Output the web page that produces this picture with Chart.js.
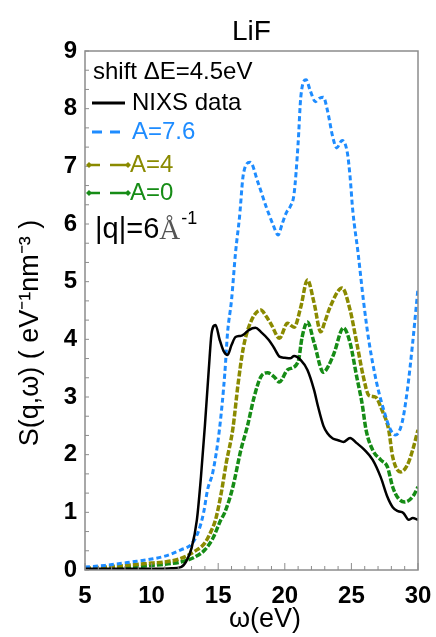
<!DOCTYPE html>
<html lang="en">
<head>
  <meta charset="UTF-8" />
  <title>LiF S(q,ω)</title>
  <script src="https://cdn.jsdelivr.net/npm/chart.js"></script>
  <style>
    body { margin: 0; background: #fff; }
    #chart { display: block; }
  </style>
</head>
<body>
  <canvas id="chart" width="436" height="637"></canvas>

  <script>
    // values: energy (eV) and S(q,w)
    const nixsE = [5, 7, 9, 10.5, 11.5, 12.2, 12.6, 13.0, 13.4, 13.7, 14.0, 14.3, 14.5, 14.8, 15.1, 15.4, 15.7, 16.0, 16.3, 16.7, 17.0, 17.3, 17.8, 18.2, 18.8, 19.2, 19.6, 20.0, 20.4, 20.7, 21.2, 21.7, 22.2, 22.5, 22.9, 23.2, 23.6, 24.0, 24.4, 24.9, 25.4, 26.0, 26.6, 27.2, 27.7, 28.1, 28.5, 28.9, 29.3, 29.6, 30.0];
    const nixsS = [0.02, 0.02, 0.02, 0.02, 0.03, 0.05, 0.15, 0.38, 0.87, 1.6, 2.5, 3.5, 4.1, 4.25, 4.0, 3.8, 3.73, 3.9, 4.04, 4.06, 4.1, 4.16, 4.2, 4.13, 3.99, 3.85, 3.7, 3.68, 3.67, 3.71, 3.64, 3.47, 3.12, 2.83, 2.5, 2.37, 2.28, 2.25, 2.22, 2.29, 2.2, 2.08, 1.91, 1.61, 1.27, 1.09, 1.02, 0.99, 0.87, 0.9, 0.87];

    const a76E = [5, 6.5, 8.5, 10, 11, 12.2, 13.0, 13.5, 13.9, 14.2, 14.6, 15.1, 15.5, 15.7, 16.0, 16.3, 16.6, 16.9, 17.4, 18.0, 18.6, 19.1, 19.5, 19.8, 20.1, 20.4, 20.7, 21.0, 21.2, 21.6, 21.9, 22.3, 22.6, 22.9, 23.2, 23.6, 23.9, 24.3, 24.7, 24.9, 25.1, 25.5, 25.9, 26.3, 26.9, 27.5, 27.9, 28.3, 28.8, 29.2, 29.6, 30.0];
    const a76S = [0.05, 0.08, 0.14, 0.19, 0.24, 0.35, 0.45, 0.66, 0.99, 1.39, 1.7, 2.45, 3.42, 4.11, 4.68, 5.5, 6.12, 6.88, 7.07, 6.71, 6.3, 6.0, 5.81, 6.0, 6.19, 6.3, 6.53, 7.4, 8.2, 8.5, 8.32, 8.12, 8.18, 8.2, 7.97, 7.51, 7.32, 7.45, 7.23, 6.82, 6.24, 5.5, 4.68, 3.99, 3.24, 2.72, 2.45, 2.34, 2.55, 3.12, 3.94, 4.89];

    const a4E = [5, 6.5, 8.5, 10, 11, 12.2, 13.2, 14.0, 14.5, 14.8, 15.2, 15.6, 16.1, 16.5, 16.9, 17.5, 18.2, 18.6, 19.0, 19.6, 20.2, 20.7, 21.2, 21.7, 22.2, 22.7, 23.0, 23.4, 24.3, 24.9, 25.4, 25.9, 26.3, 26.8, 27.3, 27.8, 28.1, 28.7, 29.2, 29.6, 30.0];
    const a4S = [0.03, 0.05, 0.09, 0.12, 0.14, 0.2, 0.32, 0.47, 0.69, 0.87, 1.3, 1.85, 2.45, 3.24, 3.87, 4.33, 4.51, 4.4, 4.25, 4.02, 4.28, 4.21, 4.56, 5.03, 4.63, 4.13, 4.3, 4.56, 4.89, 4.51, 3.94, 3.35, 3.03, 3.0, 2.77, 2.43, 1.96, 1.7, 1.82, 2.08, 2.43];

    const a0E = [5, 6.5, 8.5, 10, 11, 12.2, 13.2, 14.0, 14.6, 15.2, 15.5, 16.1, 16.7, 17.2, 17.7, 18.2, 18.7, 19.2, 19.6, 20.2, 21.0, 21.3, 21.7, 22.2, 22.9, 23.3, 23.7, 24.4, 24.9, 25.4, 25.8, 26.1, 26.6, 27.2, 27.7, 28.1, 28.5, 29.0, 29.6, 30.0];
    const a0S = [0.02, 0.03, 0.05, 0.08, 0.1, 0.14, 0.22, 0.35, 0.55, 0.87, 1.0, 1.44, 2.08, 2.5, 3.0, 3.35, 3.42, 3.35, 3.26, 3.47, 3.61, 4.04, 4.3, 3.94, 3.43, 3.55, 3.76, 4.2, 3.94, 3.35, 2.89, 2.43, 2.08, 1.91, 1.79, 1.44, 1.25, 1.18, 1.27, 1.44];

    const xTicks = [5, 10, 15, 20, 25, 30];
    const yTicks = [0, 1, 2, 3, 4, 5, 6, 7, 8, 9];

    const BLUE = '#1e8cff', OLIVE = '#8a8a00', GREEN = '#168c16', FRAME = '#8c8c8c';
    const FONT = "'Liberation Sans', Arial, sans-serif";

    const pts = (xs, ys) => xs.map((x, i) => ({ x, y: ys[i] }));

    // frame, inward ticks, title, axis titles and the text legend
    const decor = {
      id: 'decor',
      afterDatasetsDraw(chart) {
        const { ctx, chartArea: a, scales: { x, y } } = chart;
        ctx.save();
        ctx.strokeStyle = FRAME;
        ctx.lineWidth = 1.5;
        ctx.strokeRect(a.left, a.top, a.right - a.left, a.bottom - a.top);
        ctx.lineWidth = 1;
        ctx.beginPath();
        for (let v = 5; v <= 30; v++) {
          const px = x.getPixelForValue(v);
          ctx.moveTo(px, a.bottom);
          ctx.lineTo(px, a.bottom - (v % 5 === 0 ? 7 : 4));
        }
        for (let k = 0; k <= 27; k++) {
          const py = y.getPixelForValue(k / 3);
          ctx.moveTo(a.left, py);
          ctx.lineTo(a.left + 4, py);
        }
        ctx.stroke();
        ctx.restore();
      },
      afterDraw(chart) {
        const { ctx, chartArea: a } = chart;
        ctx.save();
        ctx.fillStyle = '#000';
        ctx.textBaseline = 'middle';

        ctx.textAlign = 'center';
        ctx.font = `28px ${FONT}`;
        ctx.fillText('LiF', (a.left + a.right) / 2, 32);

        ctx.font = `27px ${FONT}`;
        ctx.fillText('ω(eV)', 265, 620);

        ctx.save();
        ctx.translate(31, 333);
        ctx.rotate(-Math.PI / 2);
        ctx.fillText('S(q,ω) ( eV⁻¹nm⁻³ )', 0, 0);
        ctx.restore();

        ctx.textAlign = 'left';
        ctx.font = `24px ${FONT}`;
        ctx.fillText('shift ΔE=4.5eV', 93, 72);

        ctx.lineWidth = 3;
        ctx.strokeStyle = '#000';
        ctx.beginPath(); ctx.moveTo(92, 103); ctx.lineTo(125, 103); ctx.stroke();
        ctx.fillText('NIXS data', 132, 103);

        ctx.strokeStyle = BLUE;
        ctx.fillStyle = BLUE;
        ctx.beginPath();
        ctx.moveTo(92, 132); ctx.lineTo(102, 132);
        ctx.moveTo(110, 132); ctx.lineTo(120, 132);
        ctx.stroke();
        ctx.fillText('A=7.6', 132, 132);

        [[OLIVE, 'A=4', 165], [GREEN, 'A=0', 193]].forEach(([c, label, ly]) => {
          ctx.strokeStyle = c;
          ctx.fillStyle = c;
          ctx.lineWidth = 2.5;
          ctx.beginPath();
          ctx.moveTo(89, ly); ctx.lineTo(100, ly);
          ctx.moveTo(110, ly); ctx.lineTo(128, ly);
          ctx.stroke();
          [89, 128].forEach(mx => {
            ctx.beginPath();
            ctx.moveTo(mx - 3, ly); ctx.lineTo(mx, ly - 3); ctx.lineTo(mx + 3, ly); ctx.lineTo(mx, ly + 3);
            ctx.closePath();
            ctx.fill();
          });
          ctx.fillText(label, 130, ly);
        });

        ctx.fillStyle = '#000';
        ctx.font = `29px ${FONT}`;
        ctx.fillText('|q|=6', 95, 230);
        let w = ctx.measureText('|q|=6').width;
        ctx.fillStyle = '#555';
        ctx.font = `29px 'Liberation Serif', serif`;
        ctx.fillText('Å', 95 + w, 231);
        w += ctx.measureText('Å').width;
        ctx.fillStyle = '#000';
        ctx.font = `18px ${FONT}`;
        ctx.fillText('-1', 96 + w, 219);
        ctx.restore();
      }
    };

    new Chart(document.getElementById('chart'), {
      type: 'line',
      data: {
        datasets: [
          { label: 'NIXS data', data: pts(nixsE, nixsS), borderColor: '#000', borderWidth: 2.5 },
          { label: 'A=7.6', data: pts(a76E, a76S), borderColor: BLUE, borderWidth: 3, borderDash: [5, 3] },
          { label: 'A=4', data: pts(a4E, a4S), borderColor: OLIVE, borderWidth: 3.5, borderDash: [6, 2] },
          { label: 'A=0', data: pts(a0E, a0S), borderColor: GREEN, borderWidth: 3.5, borderDash: [6, 2] }
        ]
      },
      options: {
        responsive: false,
        animation: false,
        cubicInterpolationMode: 'monotone',
        elements: { point: { radius: 0 } },
        layout: { padding: { top: 51, right: 18, left: 0, bottom: 0 } },
        plugins: { legend: { display: false }, tooltip: { enabled: false } },
        scales: {
          x: {
            type: 'linear', min: 5, max: 30,
            afterFit: s => { s.height = 67; s.paddingLeft = 0; s.paddingRight = 0; },
            afterBuildTicks: s => { s.ticks = xTicks.map(v => ({ value: v })); },
            grid: { display: false, drawTicks: false },
            border: { display: false },
            ticks: { padding: 12, color: '#000', font: { family: FONT, size: 24, weight: 'bold' } }
          },
          y: {
            min: 0, max: 9,
            afterFit: s => { s.width = 85; s.paddingTop = 0; s.paddingBottom = 0; },
            afterBuildTicks: s => { s.ticks = yTicks.map(v => ({ value: v })); },
            grid: { display: false, drawTicks: false },
            border: { display: false },
            ticks: { padding: 8, color: '#000', font: { family: FONT, size: 24, weight: 'bold' } }
          }
        }
      },
      plugins: [decor]
    });
  </script>
</body>
</html>
